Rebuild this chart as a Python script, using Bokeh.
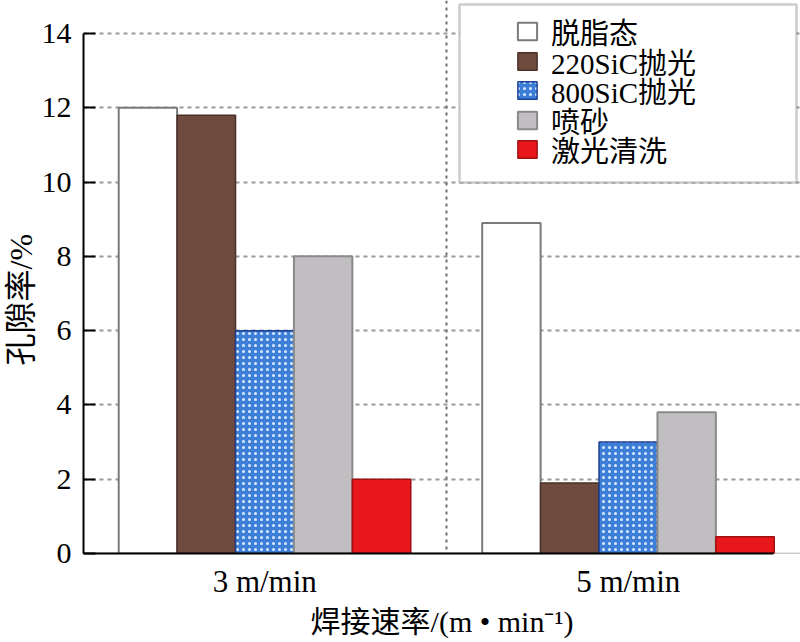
from bokeh.plotting import figure
from bokeh.models import (Range1d, FixedTicker, Legend, LegendItem, Span, Title,
                          BoxAnnotation, ColumnDataSource)
from bokeh.embed import file_html
from bokeh.resources import INLINE

# ---- data ----
speeds = ["3 m/min", "5 m/min"]
series = ["脱脂态", "220SiC抛光", "800SiC抛光", "喷砂", "激光清洗"]
degreased = [12.0, 8.9]
sic220 = [11.8, 1.9]
sic800 = [6.0, 3.0]
sandblast = [8.0, 3.8]
laser = [2.0, 0.45]
y_ticks = [0, 2, 4, 6, 8, 10, 12, 14]
x_title = "焊接速率/(m • min⁻¹)"
y_title = "孔隙率/%"

values = [degreased, sic220, sic800, sandblast, laser]

FONT = "Liberation Serif, Noto Sans CJK SC"

W, H = 800, 642
FRAME_BOTTOM = 553
p = figure(width=W, height=H, output_backend="svg", toolbar_location=None,
           x_range=Range1d(-0.4986, 1.4739), y_range=Range1d(0, 14.889),
           min_border_left=82, min_border_right=0, min_border_top=0,
           min_border_bottom=H - FRAME_BOTTOM)
p.outline_line_color = None
p.background_fill_color = "white"

# styles per series
styles = [
    dict(fill_color="white", line_color="#7a7a7a", line_width=2),
    dict(fill_color="#6f4a3f", line_color="#4a3028", line_width=1.5),
    dict(fill_color="#3d7fd6", line_color="#1c3f93", line_width=1.5,
         hatch_pattern="dot", hatch_color="#dbe9ff", hatch_scale=6, hatch_weight=2),
    dict(fill_color="#c0bec0", line_color="#8a8a8a", line_width=2),
    dict(fill_color="#e8171c", line_color="#a01010", line_width=1.5),
]

bar_w = 0.1607
group_x = list(range(len(speeds)))
renderers = []
for i, (name, vals, st) in enumerate(zip(series, values, styles)):
    off = (i - 2) * bar_w
    src = ColumnDataSource(dict(x=[g + off for g in group_x], top=vals))
    r = p.vbar(x="x", top="top", width=bar_w, bottom=0, source=src, **st)
    renderers.append(r)

# grid
p.xgrid.visible = False
p.ygrid.ticker = FixedTicker(ticks=y_ticks)
p.ygrid.grid_line_color = "#9a9a9a"
p.ygrid.grid_line_width = 2
p.ygrid.grid_line_dash = "4 4"

# divider between groups
p.add_layout(Span(location=0.5, dimension="height", line_color="#6f6f6f",
                  line_width=2, line_dash="3 4"))
# thin grey baseline continuing past the black axis line
p.add_layout(Span(location=0, dimension="width", line_color="#9a9a9a",
                  line_width=1.5, level="underlay"))

# axes
ya = p.yaxis[0]
ya.ticker = FixedTicker(ticks=y_ticks)
ya.bounds = (0, 14)
ya.axis_line_width = 2
ya.axis_line_color = "black"
ya.major_tick_in = 12
ya.major_tick_out = 0
ya.major_tick_line_width = 2
ya.minor_tick_line_color = None
ya.major_label_text_font = FONT
ya.major_label_text_font_size = "30px"
ya.major_label_text_color = "black"
ya.major_label_standoff = 12

xa = p.xaxis[0]
xa.ticker = FixedTicker(ticks=group_x)
xa.bounds = (-0.4986, 1.40)
xa.major_label_overrides = {g: s for g, s in zip(group_x, speeds)}
xa.axis_line_width = 2
xa.axis_line_color = "black"
xa.major_tick_line_color = None
xa.minor_tick_line_color = None
xa.major_label_text_font = FONT
xa.major_label_text_font_size = "31px"
xa.major_label_text_color = "black"
xa.major_label_standoff = 4
xa.axis_label = x_title
xa.axis_label_text_font = FONT
xa.axis_label_text_font_size = "30px"
xa.axis_label_text_font_style = "normal"
xa.axis_label_text_color = "black"
xa.axis_label_standoff = 3

# y title
p.add_layout(Title(text=y_title, align="left", offset=188,
                   text_font=FONT, text_font_size="32px", text_color="black",
                   text_font_style="normal", standoff=0), "left")

# legend frame
p.add_layout(BoxAnnotation(left=376, right=713, bottom=FRAME_BOTTOM - 182,
                           top=FRAME_BOTTOM - 4,
                           left_units="screen", right_units="screen",
                           bottom_units="screen", top_units="screen",
                           fill_color="white", fill_alpha=1,
                           line_color="#555555", line_width=2.5))

# one legend per row, rows ~29.5 px apart
row_centers = [34, 63.5, 93, 122.5, 152]
ROW_H = 36
for name, r, c in zip(series, renderers, row_centers):
    lg = Legend(items=[LegendItem(label=name, renderers=[r])],
                location=(432, FRAME_BOTTOM - c - ROW_H / 2), padding=0,
                spacing=0, margin=0, glyph_width=24, glyph_height=22,
                label_height=22, label_standoff=12, label_text_font=FONT,
                label_text_font_size="29px", label_text_color="black",
                border_line_color=None, background_fill_alpha=0)
    p.add_layout(lg)

open("out.html", "w").write(file_html(p, INLINE))
